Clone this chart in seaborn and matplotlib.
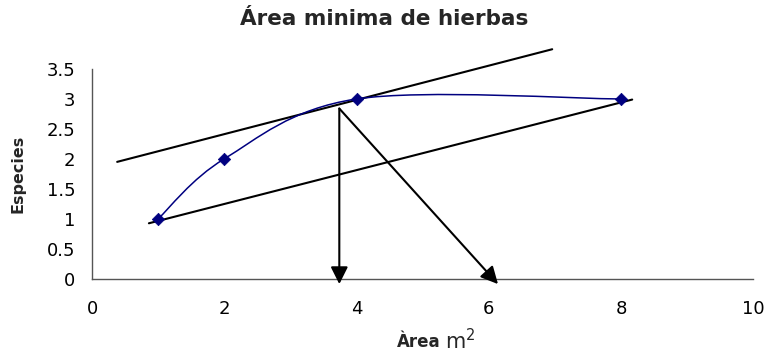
import numpy as np
import pandas as pd
import matplotlib
matplotlib.use("Agg")
import matplotlib.pyplot as plt
from matplotlib.path import Path
from matplotlib.patches import PathPatch
import seaborn as sns

# Datos del muestreo
area = [1, 2, 4, 8]
especies = [1, 2, 3, 3]

# Rectas trazadas a mano sobre la gráfica
recta_sup_x = [0.38, 6.96]
recta_sup_y = [1.95, 3.83]
recta_inf_x = [0.86, 8.17]
recta_inf_y = [0.925, 2.99]

# Flechas: origen común y puntos de llegada
flecha_origen = (3.74, 2.84)
flecha_destinos_x = [3.74, 6.14]
flecha_destinos_y = [-0.09, -0.09]

x_ticks = [0, 2, 4, 6, 8, 10]
y_ticks = [0, 0.5, 1, 1.5, 2, 2.5, 3, 3.5]

AZUL = "#000080"


def curva_suavizada(xs, ys):
    """Curva tipo Excel (Bezier cúbica con tangentes de Catmull-Rom)."""
    pts = np.column_stack([xs, ys]).astype(float)
    ext = np.vstack([pts[0], pts, pts[-1]])
    verts = [pts[0]]
    codes = [Path.MOVETO]
    for i in range(len(pts) - 1):
        p0, p1, p2, p3 = ext[i], ext[i + 1], ext[i + 2], ext[i + 3]
        c1 = p1 + (p2 - p0) / 6
        c2 = p2 - (p3 - p1) / 6
        verts += [c1, c2, p2]
        codes += [Path.CURVE4] * 3
    return Path(verts, codes)


sns.set_theme(style="white")
plt.rcParams["font.family"] = ["DejaVu Sans"]

df = pd.DataFrame({"area": area, "especies": especies})

fig = plt.figure(figsize=(7.67, 3.53), dpi=100)
ax = fig.add_axes([0.12, 0.2105, 0.862, 0.594])

ax.add_patch(PathPatch(curva_suavizada(area, especies), facecolor="none",
                       edgecolor=AZUL, lw=1.1, zorder=3))
sns.scatterplot(data=df, x="area", y="especies", marker="D", s=40,
                color=AZUL, edgecolor=AZUL, ax=ax, zorder=4, clip_on=False)

ax.plot(recta_sup_x, recta_sup_y, color="black", lw=1.5, clip_on=False, zorder=2)
ax.plot(recta_inf_x, recta_inf_y, color="black", lw=1.5, clip_on=False, zorder=2)

for fx, fy in zip(flecha_destinos_x, flecha_destinos_y):
    ax.annotate("", xy=(fx, fy), xytext=flecha_origen, annotation_clip=False,
                arrowprops=dict(arrowstyle="-|>", color="black", lw=1.5,
                                mutation_scale=26, shrinkA=0, shrinkB=0))

ax.set_xlim(0, 10)
ax.set_ylim(0, 3.5)
ax.set_xticks(x_ticks)
ax.set_yticks(y_ticks)
ax.set_xticklabels([str(t) for t in x_ticks])
ax.set_yticklabels([f"{t:g}" for t in y_ticks])
ax.tick_params(axis="both", direction="out", length=5, width=1, color="#555555",
               labelsize=13, labelcolor="black")
ax.tick_params(axis="y", pad=7)
ax.tick_params(axis="x", pad=10)
sns.despine(ax=ax)
for s in ["left", "bottom"]:
    ax.spines[s].set_color("#555555")
    ax.spines[s].set_linewidth(1)

ax.set_xlabel("")
ax.set_ylabel("")
fig.text(0.0235, 0.507, "Especies", fontsize=11.5, fontweight="bold",
         rotation=90, ha="center", va="center")
fig.suptitle("Área minima de hierbas", x=0.5007, y=0.975, fontsize=15.5,
             fontweight="bold", va="top")

fig.text(0.574, 0.018, "Àrea", fontsize=12, fontweight="bold", ha="right",
         va="baseline")
fig.text(0.580, 0.012, r"m$^{2}$", fontsize=15, ha="left", va="baseline")

fig.savefig("out.png", dpi=100)
